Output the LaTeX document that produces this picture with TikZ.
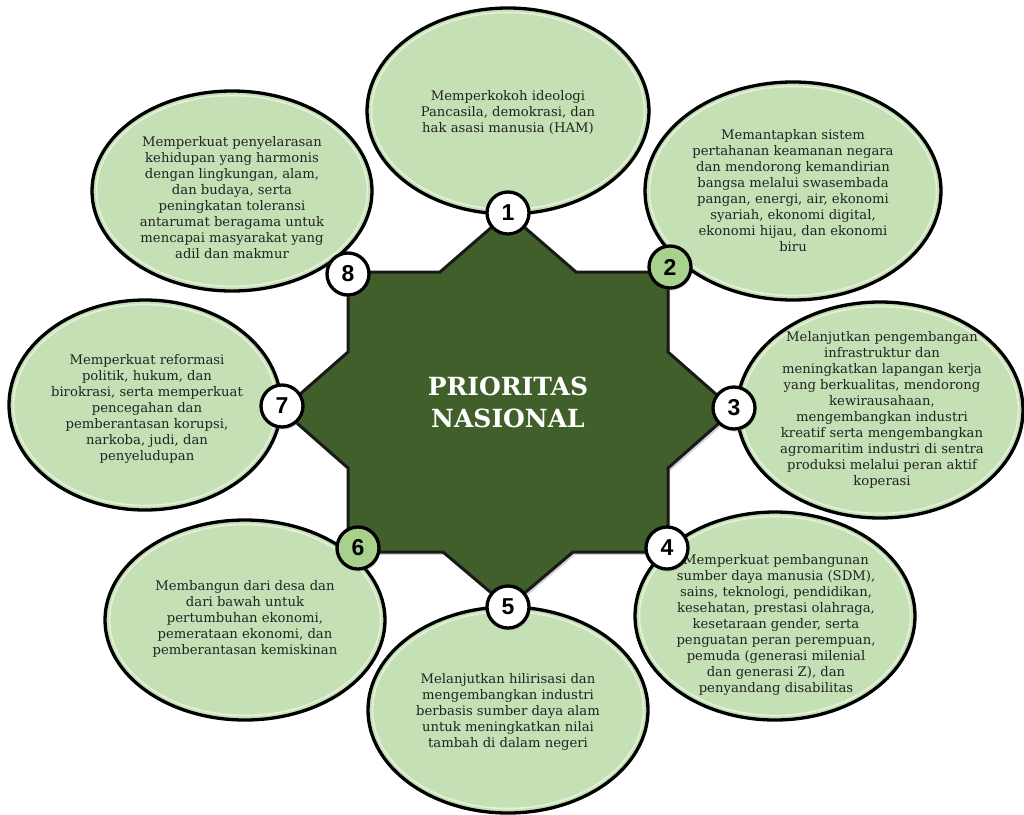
\documentclass[tikz,border=0pt]{standalone}
\usepackage{fontspec}
\setmainfont{DejaVu Serif}
\newfontfamily\numfont{Liberation Sans}
\usetikzlibrary{shapes.geometric,shadows}
\definecolor{leaf}{RGB}{197,224,180}
\definecolor{stargreen}{RGB}{64,95,42}
\definecolor{numgreen}{RGB}{169,209,142}
\definecolor{txt}{RGB}{35,35,35}
\begin{document}
\begin{tikzpicture}[x=1pt,y=-1pt,
  leafell/.style={ellipse, draw=black, line width=3.3pt, fill=leaf, inner sep=0pt},
  rim/.style={ellipse, draw=white, opacity=0.55, line width=1.6pt, inner sep=0pt},
  body/.style={align=center, text=txt, font=\fontsize{13.2}{16}\selectfont, inner sep=0pt},
  numc/.style={circle, draw=black, line width=3.3pt, fill=white, minimum size=42pt, inner sep=0pt,
    font=\numfont\bfseries\fontsize{23}{23}\selectfont,
    drop shadow={opacity=0.35, shadow xshift=1pt, shadow yshift=-2.5pt}},
  numg/.style={numc, fill=numgreen},
  title/.style={align=center, text=white, font=\bfseries\fontsize{25}{32}\selectfont}
]
\useasboundingbox (0,0) rectangle (1024,814);

% central eight-pointed star
\filldraw[fill=stargreen, draw=black!90, line width=3pt, line join=miter,
  drop shadow={opacity=0.35, shadow xshift=2pt, shadow yshift=-3pt}]
  (508,213) -- (576,272) -- (668,272) -- (668,352) -- (734,410) -- (668,468)
  -- (668,552) -- (573,552) -- (508,607) -- (443,552) -- (348,552) -- (348,468)
  -- (282,410) -- (348,352) -- (348,272) -- (440,272) -- cycle;
\node[title] (title) at (508,402) {PRIORITAS\\NASIONAL};

% ellipses
\node[leafell, minimum width=282pt, minimum height=206pt] (e1) at (508,111) {};
\node[leafell, minimum width=296pt, minimum height=218pt] (e2) at (793,191) {};
\node[leafell, minimum width=286pt, minimum height=216pt] (e3) at (880,410) {};
\node[leafell, minimum width=280pt, minimum height=208pt] (e4) at (775,616) {};
\node[leafell, minimum width=280pt, minimum height=206pt] (e5) at (508,710) {};
\node[leafell, minimum width=280pt, minimum height=200pt] (e6) at (245,620) {};
\node[leafell, minimum width=272pt, minimum height=210pt] (e7) at (145,405) {};
\node[leafell, minimum width=280pt, minimum height=200pt] (e8) at (232,191) {};
\foreach \n/\w/\h in {1/282/206,2/296/218,3/286/216,4/280/208,5/280/206,6/280/200,7/272/210,8/280/200}{
  \node[rim, minimum width=\w pt-9pt, minimum height=\h pt-9pt] (r\n) at (e\n.center) {};
}

% texts
\node[body] (t1) at (508,113) {Memperkokoh ideologi\\Pancasila, demokrasi, dan\\hak asasi manusia (HAM)};
\node[body] (t2) at (793,191) {Memantapkan sistem\\pertahanan keamanan negara\\dan mendorong kemandirian\\bangsa melalui swasembada\\pangan, energi, air, ekonomi\\syariah, ekonomi digital,\\ekonomi hijau, dan ekonomi\\biru};
\node[body] (t3) at (882,410) {Melanjutkan pengembangan\\infrastruktur dan\\meningkatkan lapangan kerja\\yang berkualitas, mendorong\\kewirausahaan,\\mengembangkan industri\\kreatif serta mengembangkan\\agromaritim industri di sentra\\produksi melalui peran aktif\\koperasi};
\node[body] (t4) at (776,625) {Memperkuat pembangunan\\sumber daya manusia (SDM),\\sains, teknologi, pendidikan,\\kesehatan, prestasi olahraga,\\kesetaraan gender, serta\\penguatan peran perempuan,\\pemuda (generasi milenial\\dan generasi Z), dan\\penyandang disabilitas};
\node[body] (t5) at (508,712) {Melanjutkan hilirisasi dan\\mengembangkan industri\\berbasis sumber daya alam\\untuk meningkatkan nilai\\tambah di dalam negeri};
\node[body] (t6) at (245,619) {Membangun dari desa dan\\dari bawah untuk\\pertumbuhan ekonomi,\\pemerataan ekonomi, dan\\pemberantasan kemiskinan};
\node[body] (t7) at (147,409) {Memperkuat reformasi\\politik, hukum, dan\\birokrasi, serta memperkuat\\pencegahan dan\\pemberantasan korupsi,\\narkoba, judi, dan\\penyeludupan};
\node[body] (t8) at (232,198) {Memperkuat penyelarasan\\kehidupan yang harmonis\\dengan lingkungan, alam,\\dan budaya, serta\\peningkatan toleransi\\antarumat beragama untuk\\mencapai masyarakat yang\\adil dan makmur};

% number badges
\node[numc] (n1) at (508,213) {1};
\node[numg] (n2) at (670,267) {2};
\node[numc] (n3) at (734,408) {3};
\node[numc] (n4) at (667,548) {4};
\node[numc] (n5) at (508,607) {5};
\node[numg] (n6) at (358,548) {6};
\node[numc] (n7) at (282,406) {7};
\node[numc] (n8) at (348,274) {8};
\end{tikzpicture}
\end{document}
